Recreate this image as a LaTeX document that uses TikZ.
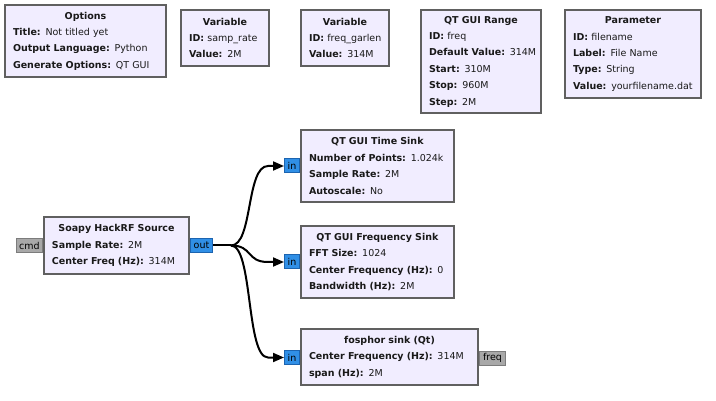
\documentclass[tikz,border=0pt]{standalone}
\usepackage{fontspec}
\setmainfont{DejaVu Sans}
\usetikzlibrary{arrows.meta, positioning}

\definecolor{blkfill}{RGB}{241,237,255}
\definecolor{blkline}{RGB}{96,96,96}
\definecolor{portblue}{RGB}{48,143,230}
\definecolor{portblueline}{RGB}{28,100,176}
\definecolor{portgray}{RGB}{168,168,168}
\definecolor{portgrayline}{RGB}{124,124,124}

\newcommand{\blkttl}[1]{{\centering\textbf{#1}\par}}
\newcommand{\kv}[2]{\mbox{\textbf{#1} #2}\par}

\begin{document}
\begin{tikzpicture}[x=1pt, y=-1pt,
    font=\fontsize{9.5}{16.4}\selectfont,
    blk/.style={draw=blkline, line width=2, fill=blkfill, anchor=north west,
        inner xsep=8, inner ysep=0, text=black!90},
    inport/.style={draw=portblueline, fill=portblue, line width=1, inner xsep=2.5,
        inner ysep=0, minimum height=14, minimum width=15},
    msgport/.style={draw=portgrayline, fill=portgray, line width=1, inner xsep=2.5,
        inner ysep=0, minimum height=14},
    wire/.style={line width=2, -{Triangle[length=11, width=9]}}]
    \useasboundingbox (0,0) rectangle (716,401);

    % top row: variables and settings
    \node[blk, minimum width=161, minimum height=72, text width=145] (opts) at (4,4)
        {\blkttl{Options}\kv{Title:}{Not titled yet}
         \kv{Output Language:}{Python}\kv{Generate Options:}{QT GUI}};
    \node[blk, minimum width=88, minimum height=56, text width=72] (samprate) at (180,9)
        {\blkttl{Variable}\kv{ID:}{samp\_rate}\kv{Value:}{2M}};
    \node[blk, minimum width=88, minimum height=56, text width=72] (freqgarlen) at (300,9)
        {\blkttl{Variable}\kv{ID:}{freq\_garlen}\kv{Value:}{314M}};
    \node[blk, minimum width=120, minimum height=103, text width=104] (range) at (420,9)
        {\blkttl{QT GUI Range}\kv{ID:}{freq}\kv{Default Value:}{314M}
         \kv{Start:}{310M}\kv{Stop:}{960M}\kv{Step:}{2M}};
    \node[blk, minimum width=136, minimum height=88, text width=120] (param) at (564,9)
        {\blkttl{Parameter}\kv{ID:}{filename}\kv{Label:}{File Name}
         \kv{Type:}{String}\kv{Value:}{yourfilename.dat}};

    % flow graph
    \node[blk, minimum width=145, minimum height=57, text width=129] (src) at (43,216)
        {\blkttl{Soapy HackRF Source}\kv{Sample Rate:}{2M}\kv{Center Freq (Hz):}{314M}};
    \node[blk, minimum width=153, minimum height=72, text width=137] (tsink) at (300,129)
        {\blkttl{QT GUI Time Sink}\kv{Number of Points:}{1.024k}
         \kv{Sample Rate:}{2M}\kv{Autoscale:}{No}};
    \node[blk, minimum width=153, minimum height=72, text width=137] (fsink) at (300,225)
        {\blkttl{QT GUI Frequency Sink}\kv{FFT Size:}{1024}
         \kv{Center Frequency (Hz):}{0}\kv{Bandwidth (Hz):}{2M}};
    \node[blk, minimum width=177, minimum height=56, text width=161] (fosphor) at (300,328)
        {\blkttl{fosphor sink (Qt)}\kv{Center Frequency (Hz):}{314M}\kv{span (Hz):}{2M}};

    % ports
    \node[msgport, left=0 of src, minimum width=26] (cmd) {cmd};
    \node[inport, right=0 of src, minimum width=22] (out) {out};
    \node[inport, left=0 of tsink] (tin) {in};
    \node[inport, left=0 of fsink] (fin) {in};
    \node[inport, left=0 of fosphor.west, anchor=east, yshift=-0.5] (phin) {in};
    \node[msgport, right=0 of fosphor, minimum width=26, yshift=-1] (phfreq) {freq};

    % connections
    \coordinate (split) at ([xshift=18]out.east);
    \draw[line width=2] (out.east) -- (split);
    \draw[wire] (split) .. controls +(22,0) and +(-22,0) .. ([xshift=-16]tin.west) -- (tin.west);
    \draw[wire] (split) .. controls +(22,0) and +(-22,0) .. ([xshift=-16]fin.west) -- (fin.west);
    \draw[wire] (split) .. controls +(22,0) and +(-22,0) .. ([xshift=-16]phin.west) -- (phin.west);
\end{tikzpicture}
\end{document}
